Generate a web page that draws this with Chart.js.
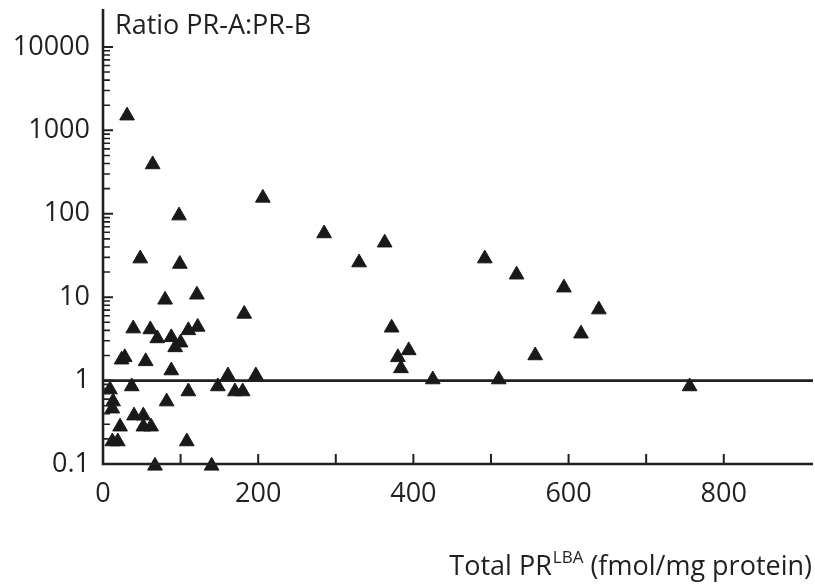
<!DOCTYPE html>
<html><head><meta charset="utf-8">
<script src="https://cdn.jsdelivr.net/npm/chart.js@4.4.1/dist/chart.umd.min.js"></script>
<style>html,body{margin:0;padding:0;background:#fff}#wrap{width:815px;height:585px}</style>
</head><body><div id="wrap"><canvas id="c" width="815" height="585"></canvas></div>
<script>
// ---- data ----
const totalPR = [31, 64, 206, 98, 285, 363, 330, 492, 48, 99, 533, 594, 121, 80, 639, 182,
  39, 61, 372, 122, 110, 70, 88, 100, 93, 616, 394, 380, 557, 24, 28, 55, 384, 88,
  161, 197, 425, 510, 756, 9, 37, 110, 148, 170, 180, 13, 12, 82, 40, 52, 52, 62, 22,
  12, 19, 108, 67, 140];
const ratioAB = [1500, 390, 155, 95, 58, 45, 26, 29, 29, 25, 18.6, 13, 10.7, 9.3, 7.1, 6.3,
  4.2, 4.1, 4.3, 4.4, 4.0, 3.2, 3.3, 2.85, 2.5, 3.65, 2.3, 1.9, 2.0, 1.78, 1.9, 1.7, 1.4, 1.32,
  1.15, 1.15, 1.03, 1.03, 0.85, 0.78, 0.85, 0.74, 0.85, 0.74, 0.74, 0.56, 0.46, 0.56, 0.38, 0.38, 0.28, 0.28, 0.28,
  0.186, 0.186, 0.186, 0.095, 0.095];
const xTickValues = [0, 200, 400, 600, 800];
const xTickLabels = ['0', '200', '400', '600', '800'];
const xMinorTicks = [100, 200, 300, 400, 500, 600, 700, 800];
const yTickValues = [0.1, 1, 10, 100, 1000, 10000];
const yTickLabels = ['0.1', '1', '10', '100', '1000', '10000'];
const refLineValue = 1;
const yAxisTitle = 'Ratio PR-A:PR-B';
const xAxisTitleMain = 'Total PR';
const xAxisTitleSup = 'LBA';
const xAxisTitleRest = ' (fmol/mg protein)';

const INK = '#231f20';
const FONT = '"Open Sans", "Noto Sans", sans-serif';
const FS = 27;

const axesPlugin = {
  id: 'axesPlugin',
  afterDatasetsDraw(chart) {
    const ctx = chart.ctx, xs = chart.scales.x, ys = chart.scales.y, ca = chart.chartArea;
    ctx.save();
    ctx.strokeStyle = INK;
    ctx.lineCap = 'butt';
    // axis lines
    ctx.lineWidth = 2.6;
    ctx.beginPath();
    ctx.moveTo(ca.left, ca.top); ctx.lineTo(ca.left, ca.bottom + 1.3);
    ctx.moveTo(ca.left - 1.3, ca.bottom); ctx.lineTo(ca.right, ca.bottom);
    ctx.stroke();
    // y major ticks
    ctx.lineWidth = 2;
    ctx.beginPath();
    yTickValues.forEach(v => { const y = ys.getPixelForValue(v); ctx.moveTo(ca.left, y); ctx.lineTo(ca.left + 10, y); });
    ctx.stroke();
    // y minor ticks
    ctx.lineWidth = 1.6;
    ctx.beginPath();
    yTickValues.slice(0, -1).forEach(d => {
      for (let k = 2; k <= 9; k++) { const y = ys.getPixelForValue(d * k); ctx.moveTo(ca.left, y); ctx.lineTo(ca.left + 7, y); }
    });
    ctx.stroke();
    // x ticks
    ctx.lineWidth = 2;
    ctx.beginPath();
    xMinorTicks.forEach(v => { const x = xs.getPixelForValue(v); ctx.moveTo(x, ca.bottom); ctx.lineTo(x, ca.bottom - 10); });
    ctx.stroke();
    // titles
    ctx.fillStyle = INK;
    ctx.textBaseline = 'alphabetic';
    ctx.font = FS + 'px ' + FONT;
    ctx.textAlign = 'left';
    ctx.fillText(yAxisTitle, ca.left + 12, 34);
    const supFont = Math.round(FS * 0.62) + 'px ' + FONT;
    const w1 = ctx.measureText(xAxisTitleMain).width;
    const w3 = ctx.measureText(xAxisTitleRest).width;
    ctx.font = supFont;
    const w2 = ctx.measureText(xAxisTitleSup).width;
    const right = 812, base = 575;
    let x0 = right - (w1 + w2 + w3 + 1);
    ctx.font = FS + 'px ' + FONT;
    ctx.fillText(xAxisTitleMain, x0, base);
    ctx.font = supFont;
    ctx.fillText(xAxisTitleSup, x0 + w1 + 1, base - 12);
    ctx.font = FS + 'px ' + FONT;
    ctx.fillText(xAxisTitleRest, x0 + w1 + w2 + 1, base);
    ctx.restore();
  }
};

const points = totalPR.map((x, i) => ({ x: x, y: ratioAB[i] }));

new Chart(document.getElementById('c'), {
  type: 'scatter',
  data: {
    datasets: [
      {
        type: 'scatter',
        data: points,
        pointStyle: 'triangle',
        pointRadius: 8.5,
        pointHoverRadius: 8.5,
        backgroundColor: '#1b1819',
        borderColor: '#1b1819',
        borderWidth: 1,
        clip: false
      },
      {
        type: 'line',
        data: [{ x: 0, y: refLineValue }, { x: 915, y: refLineValue }],
        borderColor: INK,
        borderWidth: 2.6,
        pointRadius: 0,
        fill: false
      }
    ]
  },
  options: {
    responsive: false,
    animation: false,
    devicePixelRatio: 1,
    layout: { autoPadding: false, padding: { top: 9, right: 2, left: 0, bottom: 0 } },
    plugins: { legend: { display: false }, tooltip: { enabled: false } },
    scales: {
      x: {
        type: 'linear', min: 0, max: 915,
        afterBuildTicks: s => { s.ticks = xTickValues.map(v => ({ value: v })); },
        afterFit: s => { s.height = 585 - 464; s.paddingLeft = 0; s.paddingRight = 0; },
        grid: { display: false, drawTicks: false },
        border: { display: false },
        ticks: {
          autoSkip: false, maxRotation: 0, padding: 14, color: INK,
          font: { family: FONT, size: FS },
          callback: v => xTickLabels[xTickValues.indexOf(v)]
        }
      },
      y: {
        type: 'logarithmic', min: 0.1, max: 28500,
        afterBuildTicks: s => { s.ticks = yTickValues.map(v => ({ value: v })); },
        afterFit: s => { s.width = 103; s.paddingTop = 0; s.paddingBottom = 0; },
        grid: { display: false, drawTicks: false },
        border: { display: false },
        ticks: {
          autoSkip: false, padding: 13, color: INK,
          font: { family: FONT, size: FS },
          callback: v => yTickLabels[yTickValues.indexOf(v)]
        }
      }
    }
  },
  plugins: [axesPlugin]
});
</script>
</body></html>
